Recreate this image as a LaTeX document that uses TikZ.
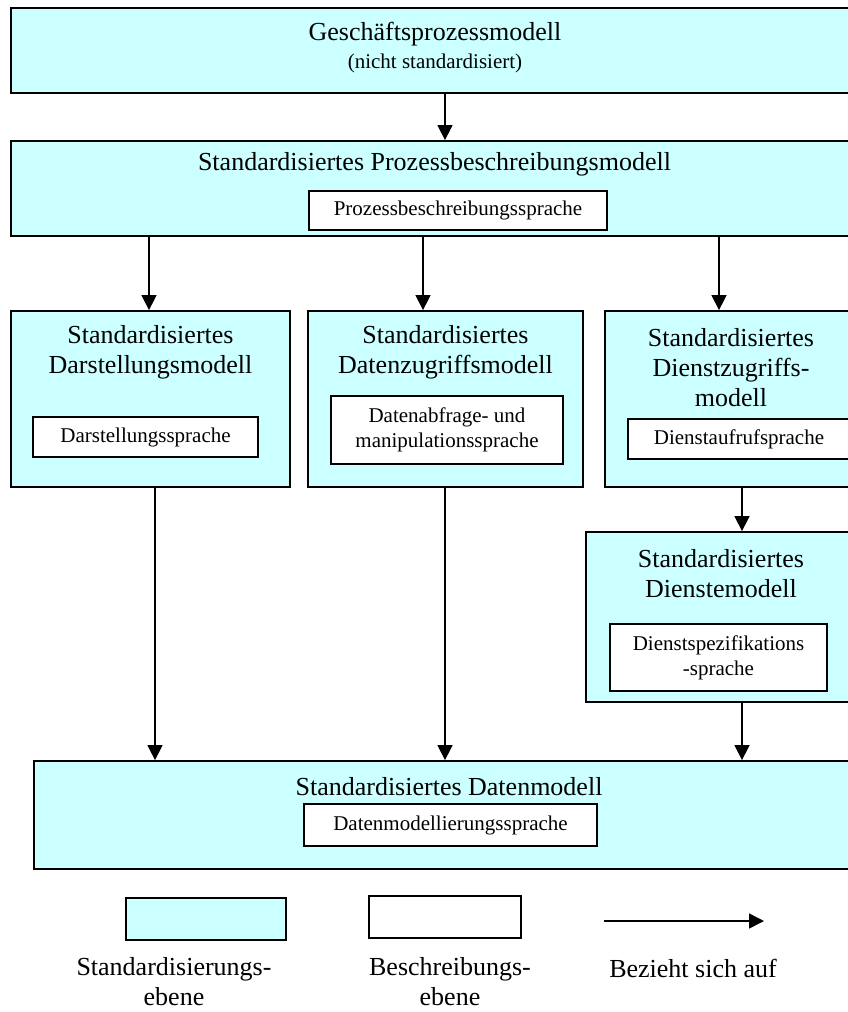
\documentclass[tikz,border=0pt]{standalone}
\usepackage{fontspec}
\setmainfont{Liberation Serif}
\usetikzlibrary{arrows.meta}
\definecolor{stdcyan}{HTML}{CCFFFF}

\begin{document}
\begin{tikzpicture}[
    x=1pt, y=-1pt,
    bigtext/.style={font=\fontsize{26}{30}\selectfont, align=center},
    smalltext/.style={font=\fontsize{21}{25}\selectfont, align=center},
    stdbox/.style={rectangle, draw=black, line width=1.8pt, fill=stdcyan, inner sep=0pt},
    descbox/.style={rectangle, draw=black, line width=1.8pt, fill=white, inner sep=0pt, smalltext},
    arrow/.style={-{Triangle[length=15pt, width=15pt]}, line width=1.5pt},
]
    \useasboundingbox (0,0) rectangle (847,1012);

    % Business process model
    \node[stdbox, minimum width=847, minimum height=85] (gpm) at (434.5,50.5) {};
    \node[bigtext] (gpm-title) at (435,34) {Geschäftsprozessmodell};
    \node[smalltext] (gpm-note) at (435,63) {(nicht standardisiert)};

    % Process description model
    \node[stdbox, minimum width=847, minimum height=95] (pbm) at (434.5,188.5) {};
    \node[bigtext] (pbm-title) at (434.5,164) {Standardisiertes Prozessbeschreibungsmodell};
    \node[descbox, minimum width=298, minimum height=39] (pbs) at (458,210.5) {Prozessbeschreibungssprache};

    % Presentation, data access and service access models
    \node[stdbox, minimum width=279, minimum height=176] (dsm) at (150.5,399) {};
    \node[bigtext] (dsm-title) at (150.5,352) {Standardisiertes\\Darstellungsmodell};
    \node[descbox, minimum width=225, minimum height=40] (dss) at (145.5,437) {Darstellungssprache};

    \node[stdbox, minimum width=275, minimum height=176] (dzm) at (445.5,399) {};
    \node[bigtext] (dzm-title) at (445.5,352) {Standardisiertes\\Datenzugriffsmodell};
    \node[descbox, minimum width=232, minimum height=68] (dms) at (447,430) {Datenabfrage- und\\manipulationssprache};

    \node[stdbox, minimum width=252, minimum height=176] (dim) at (731,399) {};
    \node[bigtext] (dim-title) at (731,368) {Standardisiertes\\Dienstzugriffs-\\modell};
    \node[descbox, minimum width=222, minimum height=40] (das) at (739,439) {Dienstaufrufsprache};

    % Service model
    \node[stdbox, minimum width=270, minimum height=170] (dem) at (721,617) {};
    \node[bigtext] (dem-title) at (721,574) {Standardisiertes\\Dienstemodell};
    \node[descbox, minimum width=217, minimum height=67] (dsp) at (718.5,657.5) {Dienstspezifikations\\-sprache};

    % Data model
    \node[stdbox, minimum width=830, minimum height=108] (dm) at (449,815) {};
    \node[bigtext] (dm-title) at (449,787) {Standardisiertes Datenmodell};
    \node[descbox, minimum width=293, minimum height=42] (dml) at (450.5,825) {Datenmodellierungssprache};

    % Arrow columns
    \coordinate (col-a) at (445,0);
    \coordinate (col-b) at (149,0);
    \coordinate (col-c) at (423,0);
    \coordinate (col-d) at (719,0);
    \coordinate (col-e) at (155,0);
    \coordinate (col-f) at (445,0);
    \coordinate (col-g) at (742,0);

    % Arrows between the models
    \draw[arrow] (gpm.south -| col-a) -- (pbm.north -| col-a);
    \draw[arrow] (pbm.south -| col-b) -- (dsm.north -| col-b);
    \draw[arrow] (pbm.south -| col-c) -- (dzm.north -| col-c);
    \draw[arrow] (pbm.south -| col-d) -- (dim.north -| col-d);
    \draw[arrow] (dim.south -| col-g) -- (dem.north -| col-g);
    \draw[arrow] (dsm.south -| col-e) -- (dm.north -| col-e);
    \draw[arrow] (dzm.south -| col-f) -- (dm.north -| col-f);
    \draw[arrow] (dem.south -| col-g) -- (dm.north -| col-g);

    % Legend
    \node[stdbox, minimum width=160, minimum height=42] (key-std) at (206,919) {};
    \node[descbox, minimum width=152, minimum height=42] (key-desc) at (445,917) {};
    \coordinate (key-from) at (604,921);
    \coordinate (key-to) at (764,921);
    \draw[arrow] (key-from) -- (key-to);
    \node[bigtext] (key-std-text) at (174,982) {Standardisierungs-\\ebene};
    \node[bigtext] (key-desc-text) at (450,982) {Beschreibungs-\\ebene};
    \node[bigtext] (key-arrow-text) at (693,968) {Bezieht sich auf};

\end{tikzpicture}
\end{document}
